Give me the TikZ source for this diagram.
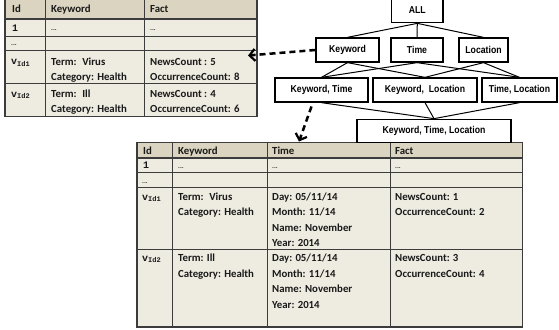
\documentclass[tikz,border=0pt]{standalone}
\usepackage{fontspec}
\newfontfamily\carl{Carlito}
\newfontfamily\lat[FakeStretch=0.87]{Liberation Sans}
\newfontfamily\mono{Liberation Mono}
\usetikzlibrary{arrows.meta}
\definecolor{hdr}{HTML}{DAD4C0}
\definecolor{bodyc}{HTML}{EEEBE1}
\definecolor{rulec}{HTML}{3C3C3C}
\newcommand{\vid}[1]{v\textsubscript{\fontsize{7}{8}\selectfont Id#1}}
\begin{document}
\begin{tikzpicture}[x=1pt,y=-1pt,
  lat/.style={draw=black, line width=1.3pt, fill=white, font=\lat\bfseries\fontsize{10}{12}\selectfont, inner sep=0pt, minimum height=24pt},
  edge/.style={line width=1pt, black},
  txt/.style={anchor=base west, inner sep=0pt, font=\carl\bfseries\fontsize{10.8}{12}\selectfont, text=black!90},
  ids/.style={anchor=base west, inner sep=0pt, font=\mono\bfseries\fontsize{10}{11}\selectfont, text=black!90},
  dots/.style={anchor=base west, inner sep=0pt, font=\carl\bfseries\fontsize{7}{8}\selectfont, text=black!80},
  gridl/.style={draw=rulec, line width=0.9pt},
  framel/.style={draw=rulec, line width=1.3pt},
  darrow/.style={line width=2.5pt, dash pattern=on 6pt off 4pt, -{Straight Barb[length=5.5pt,width=12pt,line width=2.2pt]}}
]
\useasboundingbox (0,0) rectangle (559,329);

% ---------- top-left table ----------
\fill[bodyc] (5,-2) rectangle (257,116.7);
\fill[hdr] (5,-2) rectangle (257,19);
\foreach \yy in {19,36.7,50.7,83.3} \draw[gridl] (5,\yy) -- (257,\yy);
\draw[framel] (5,19) -- (257,19);
\draw[framel] (5,36.7) -- (257,36.7);
\foreach \xx in {45,144} \draw[gridl] (\xx,-2) -- (\xx,116.7);
\draw[framel] (5,-2) rectangle (257,116.7);

\node[txt] (t1h1) at (12,13) {Id};
\node[txt] (t1h2) at (51,13) {Keyword};
\node[txt] (t1h3) at (150,13) {Fact};
\node[ids] (t1r1) at (12,31.5) {1};
\node[dots] (t1r1b) at (51,31) {...};
\node[dots] (t1r1c) at (150,31) {...};
\node[dots] (t1r2) at (11,46) {...};
\node[ids] (t1v1) at (11,64.5) {\vid{1}};
\node[txt] (t1k1a) at (51,65) {Term:~ Virus};
\node[txt] (t1k1b) at (51,80.5) {Category: Health};
\node[txt] (t1f1a) at (150,65) {NewsCount : 5};
\node[txt] (t1f1b) at (150,80.5) {OccurrenceCount: 8};
\node[ids] (t1v2) at (11,97) {\vid{2}};
\node[txt] (t1k2a) at (51,97.5) {Term:~ Ill};
\node[txt] (t1k2b) at (51,112.5) {Category: Health};
\node[txt] (t1f2a) at (150,97.5) {NewsCount : 4};
\node[txt] (t1f2b) at (150,112.5) {OccurrenceCount: 6};

% ---------- bottom table ----------
\fill[bodyc] (137,142.7) rectangle (522.5,327);
\fill[hdr] (137,142.7) rectangle (522.5,158);
\foreach \yy in {158,172.7,187,249} \draw[gridl] (137,\yy) -- (522.5,\yy);
\draw[framel] (137,158) -- (522.5,158);
\draw[framel] (137,172.7) -- (522.5,172.7);
\foreach \xx in {172,267,390.5} \draw[gridl] (\xx,142.7) -- (\xx,327);
\draw[framel] (137,142.7) rectangle (522.5,327);

\node[txt] (t2h1) at (143,154.5) {Id};
\node[txt] (t2h2) at (178,154.5) {Keyword};
\node[txt] (t2h3) at (272,154.5) {Time};
\node[txt] (t2h4) at (395,154.5) {Fact};
\node[ids] (t2r1) at (143,168.5) {1};
\node[dots] (t2r1b) at (178,168) {...};
\node[dots] (t2r1c) at (272,168) {...};
\node[dots] (t2r1d) at (395,168) {...};
\node[dots] (t2r2) at (142,183) {...};
\node[ids] (t2v1) at (142,200) {\vid{1}};
\node[txt] (t2k1a) at (178,200.5) {Term:~ Virus};
\node[txt] (t2k1b) at (178,215.5) {Category: Health};
\node[txt] (t2t1a) at (272,200.5) {Day: 05/11/14};
\node[txt] (t2t1b) at (272,215.5) {Month: 11/14};
\node[txt] (t2t1c) at (272,231.5) {Name: November};
\node[txt] (t2t1d) at (272,246.5) {Year: 2014};
\node[txt] (t2f1a) at (395,200.5) {NewsCount: 1};
\node[txt] (t2f1b) at (395,215.5) {OccurrenceCount: 2};
\node[ids] (t2v2) at (142,261) {\vid{2}};
\node[txt] (t2k2a) at (178,261.5) {Term: Ill};
\node[txt] (t2k2b) at (178,277) {Category: Health};
\node[txt] (t2t2a) at (272,261.5) {Day: 05/11/14};
\node[txt] (t2t2b) at (272,277) {Month: 11/14};
\node[txt] (t2t2c) at (272,292.5) {Name: November};
\node[txt] (t2t2d) at (272,308) {Year: 2014};
\node[txt] (t2f2a) at (395,261.5) {NewsCount: 3};
\node[txt] (t2f2b) at (395,277) {OccurrenceCount: 4};

% ---------- lattice ----------
\node[lat, minimum width=51.5pt, minimum height=25pt] (all) at (417.3,10.2) {ALL};
\node[lat, minimum width=63pt] (kw) at (347.5,50) {Keyword};
\node[lat, minimum width=52pt] (tm) at (417,50) {Time};
\node[lat, minimum width=49pt] (lc) at (483.5,50) {Location};
\node[lat, minimum width=93pt] (kt) at (321.5,90) {Keyword, Time};
\node[lat, minimum width=104pt] (kl) at (425,90) {Keyword,~ Location};
\node[lat, minimum width=75pt] (tl) at (519.5,90) {Time, Location};
\node[lat, minimum width=154pt, minimum height=23pt] (ktl) at (434,130.8) {Keyword, Time, Location};

\draw[edge] (all.south) -- (kw.north);
\draw[edge] (all.south) -- (tm.north);
\draw[edge] (all.south) -- (lc.north);
\draw[edge] (kw.south) -- (kt.north);
\draw[edge] (kw.south) -- (kl.north);
\draw[edge] (tm.south) -- (kt.north);
\draw[edge] (tm.south) -- (tl.north);
\draw[edge] (lc.south) -- (kl.north);
\draw[edge] (lc.south) -- (tl.north);
\draw[edge] (kt.south) -- (ktl.north);
\draw[edge] (kl.south) -- (ktl.north);
\draw[edge] (tl.south) -- (ktl.north);

% ---------- dashed arrows ----------
\coordinate (a1) at (248,55.5);
\coordinate (a2s) at (311.5,106.5);
\coordinate (a2) at (299,141.5);
\draw[darrow] (kw.west) -- (a1);
\draw[darrow] (a2s) -- (a2);
\end{tikzpicture}
\end{document}
